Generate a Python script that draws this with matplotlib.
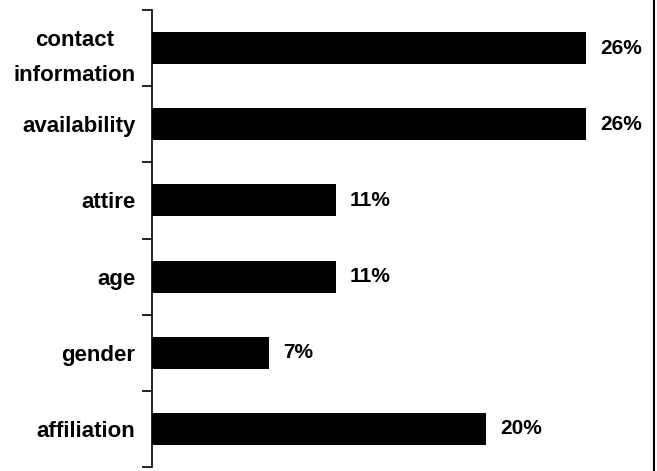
import numpy as np
import matplotlib.pyplot as plt

# data
categories = ['contact\ninformation', 'availability', 'attire', 'age', 'gender', 'affiliation']
values = [26, 26, 11, 11, 7, 20]
value_labels = ['26%', '26%', '11%', '11%', '7%', '20%']

plt.rcParams['font.family'] = ['Liberation Sans', 'DejaVu Sans']

fig = plt.figure(figsize=(6.57, 4.71), dpi=100)
ax = fig.add_axes([152 / 657, 4 / 471, 501 / 657, 457 / 471])

y = np.arange(len(categories))
ax.barh(y, values, height=0.42, color='black')

for yi, v, lab in zip(y, values, value_labels):
    ax.text(v + 0.85, yi, lab, va='center', ha='left', fontsize=15, fontweight='bold')

ax.set_xlim(0, 30)
ax.set_ylim(len(categories) - 0.5, -0.5)

ax.set_yticks(y)
ax.set_yticklabels(categories, fontsize=16, fontweight='bold', multialignment='center',
                   linespacing=1.9)
ax.set_yticks(np.arange(-0.5, len(categories), 1), minor=True)
ax.tick_params(axis='y', which='major', length=0, pad=12)
ax.tick_params(axis='y', which='minor', length=7, width=1.2, direction='out')
ax.set_xticks([])

for side in ['top', 'right', 'bottom']:
    ax.spines[side].set_visible(False)
ax.spines['left'].set_linewidth(1.2)

# right border line of the picture
fig.add_artist(plt.Line2D([653.5 / 657, 653.5 / 657], [0, 1], color='black', lw=1.5,
                          transform=fig.transFigure))

fig.savefig('out.png', dpi=100)
